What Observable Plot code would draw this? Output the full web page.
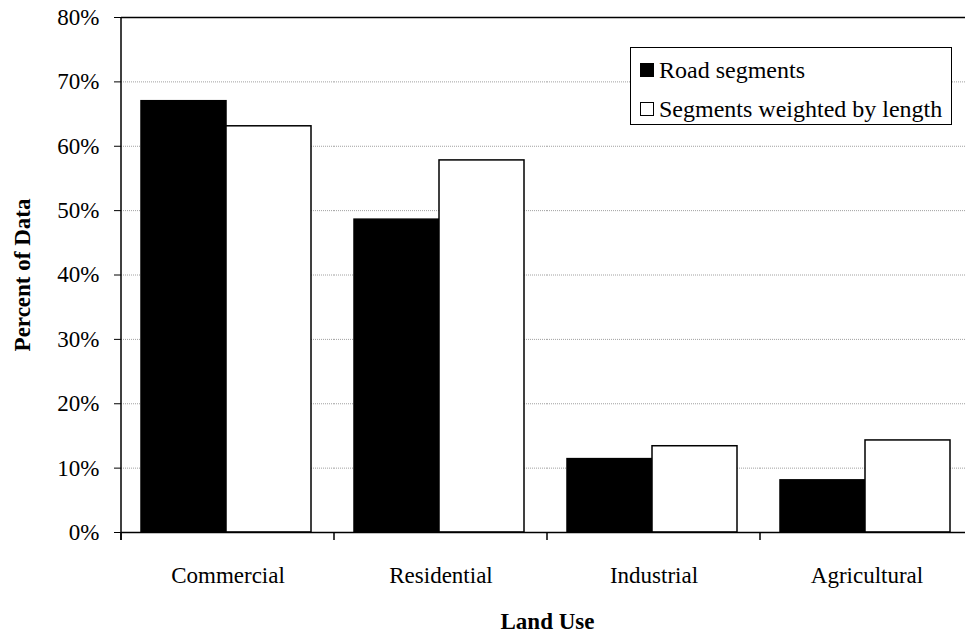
<!DOCTYPE html>
<html>
<head>
<meta charset="utf-8">
<script src="https://cdn.jsdelivr.net/npm/d3@7"></script>
<script src="https://cdn.jsdelivr.net/npm/@observablehq/plot@0.6"></script>
<style>
  html, body { margin: 0; padding: 0; background: white; overflow: hidden; }
  #wrap { position: relative; width: 965px; height: 632px; overflow: hidden; font-family: "Liberation Serif", "Times New Roman", serif; }
  #wrap svg { max-width: none !important; }
  g[aria-label="y-axis label"], g[aria-label="fx-axis label"] { font-weight: bold; }
  #legend { position: absolute; left: 630px; top: 47px; width: 322px; height: 78px; box-sizing: border-box;
    border: 1.5px solid black; background: white; font-size: 24px; color: black; }
  .item { position: absolute; left: 9px; display: flex; align-items: center; white-space: nowrap; line-height: 28px; }
  .sw { width: 14px; height: 14px; box-sizing: border-box; border: 1.2px solid black; margin-right: 5px; }
</style>
</head>
<body>
<div id="wrap"></div>
<script>
const categories = ["Commercial", "Residential", "Industrial", "Agricultural"];
const series = ["Road segments", "Segments weighted by length"];
const roadSegments = [0.670, 0.486, 0.114, 0.081];
const weightedByLength = [0.631, 0.578, 0.134, 0.143];
const yTicks = [0, 0.1, 0.2, 0.3, 0.4, 0.5, 0.6, 0.7, 0.8];
const seriesColors = ["black", "white"];

const data = [];
categories.forEach((c, i) => {
  data.push({category: c, series: series[0], value: roadSegments[i]});
  data.push({category: c, series: series[1], value: weightedByLength[i]});
});

const plot = Plot.plot({
  width: 974, height: 632,
  marginLeft: 119, marginRight: 0, marginTop: 17, marginBottom: 100,
  style: {fontFamily: "'Liberation Serif', 'Times New Roman', serif", fontSize: "23px", color: "black", background: "white", maxWidth: "none"},
  fx: {domain: categories, padding: 0},
  x: {domain: series, paddingInner: 0, paddingOuter: 0.24, axis: null},
  y: {domain: [0, 0.8]},
  color: {domain: series, range: seriesColors},
  marks: [
    Plot.ruleY(yTicks.slice(1, -1), {stroke: "#a0a0a0", strokeWidth: 1, strokeDasharray: "1,1"}),
    Plot.barY(data, {fx: "category", x: "series", y: "value", fill: "series", stroke: "black", strokeWidth: 1.5, dx: -2}),
    Plot.ruleY([0], {stroke: "black", strokeWidth: 1.5}),
    Plot.ruleY([0.8], {stroke: "black", strokeWidth: 1.5}),
    Plot.axisY({ticks: yTicks, tickFormat: d3.format(".0%"), tickSize: 7, tickPadding: 15,
      label: "Percent of Data", labelAnchor: "center", labelOffset: 108, labelArrow: "none"}),
    Plot.axisFx({anchor: "bottom", tickSize: 0, tickPadding: 34, label: "Land Use", labelAnchor: "center", labelOffset: 96, labelArrow: "none"})
  ]
});

// Category boundary ticks and the left axis line, from the plot's own scales
const fx = plot.scale("fx");
const y = plot.scale("y");
const svg = d3.select(plot.tagName.toLowerCase() === "svg" ? plot : plot.querySelector("svg"));
const bounds = categories.map((c) => fx.apply(c));
bounds.push(bounds[bounds.length - 1] + fx.step);
const y0 = y.apply(0), yTop = y.apply(0.8);
const g = svg.append("g").attr("stroke", "black").attr("stroke-width", 1.5);
bounds.forEach((bx) => {
  g.append("line").attr("x1", bx).attr("x2", bx).attr("y1", y0).attr("y2", y0 + 8);
});
g.append("line").attr("x1", bounds[0]).attr("x2", bounds[0]).attr("y1", yTop).attr("y2", y0 + 8);

document.getElementById("wrap").appendChild(plot);

// Legend
const legend = document.createElement("div");
legend.id = "legend";
series.forEach((s, i) => {
  const item = document.createElement("div");
  item.className = "item";
  item.style.top = (i === 0 ? 8 : 47) + "px";
  const sw = document.createElement("div");
  sw.className = "sw";
  sw.style.background = seriesColors[i];
  const t = document.createElement("span");
  t.textContent = s;
  item.appendChild(sw); item.appendChild(t);
  legend.appendChild(item);
});
document.getElementById("wrap").appendChild(legend);
</script>
</body>
</html>
